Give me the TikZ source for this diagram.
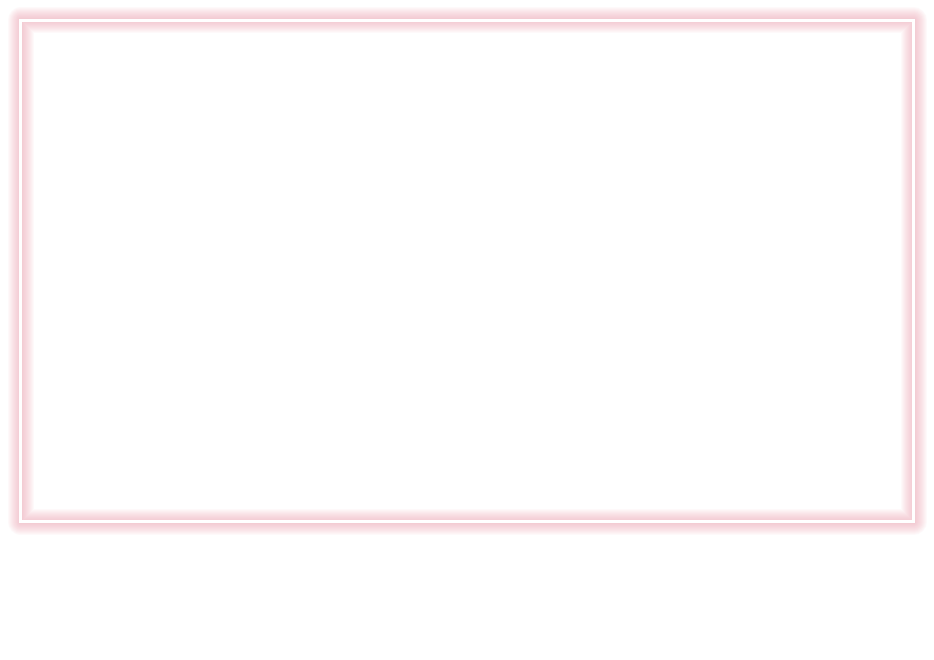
\documentclass[tikz,border=0pt]{standalone}
\usepackage{tikz}
\usetikzlibrary{positioning}
\definecolor{glowpink}{RGB}{240,160,175}

\begin{document}
\begin{tikzpicture}[
    x=1pt, y=-1pt,
    glow/.style={draw=glowpink, line join=round, opacity=0.055},
    frameline/.style={draw=white, line width=3pt}
]
\useasboundingbox (0,0) rectangle (934,660);
\fill[white] (0,0) rectangle (934,660);
% soft glow round the frame
\foreach \w in {26,24,...,4}
    \draw[glow, line width=\w pt] (20.5,20.5) rectangle (913.5,521.5);
\draw[frameline] (20.5,20.5) rectangle (913.5,521.5);
\end{tikzpicture}
\end{document}
